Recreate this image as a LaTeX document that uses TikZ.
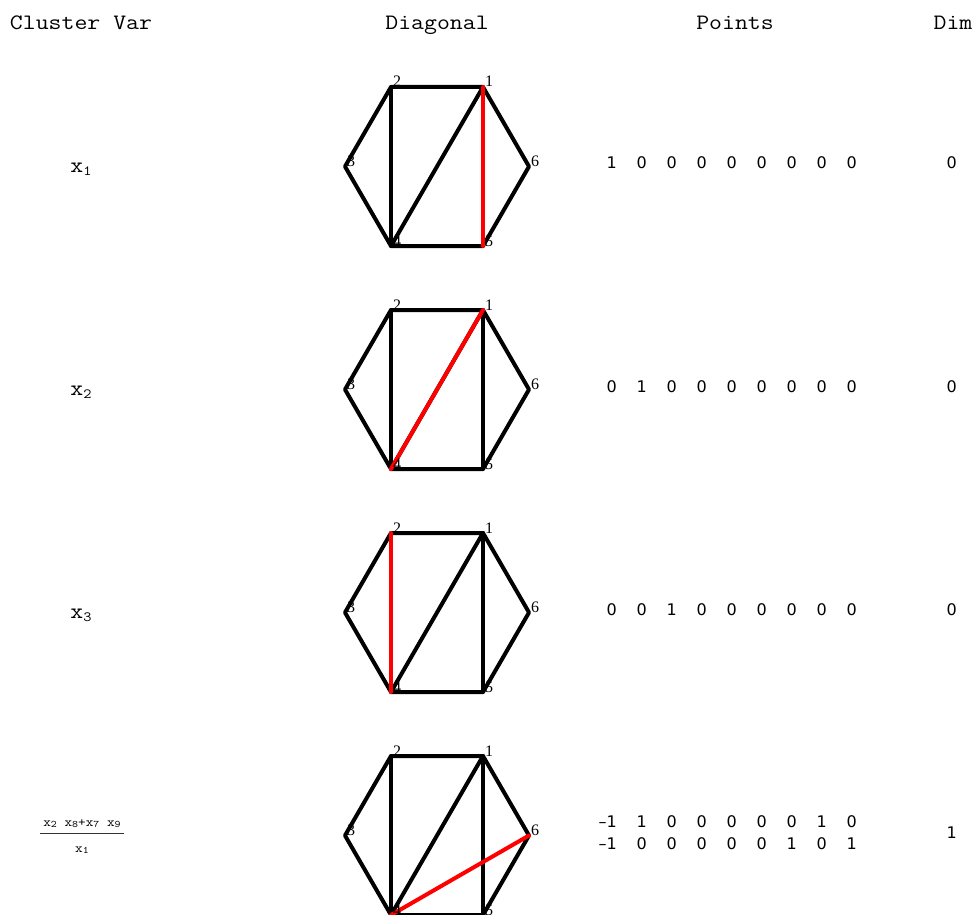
\documentclass[tikz,border=0pt]{standalone}
\usepackage{fontspec}
\setmainfont{Liberation Serif}
\newfontfamily\monof[FakeStretch=1.14]{Latin Modern Mono}
\newfontfamily\numf{DejaVu Sans}
\newcommand{\mysub}[1]{\raisebox{-3pt}{\fontsize{14}{14}\selectfont #1}}
\newcommand{\mysmallsub}[1]{\raisebox{-1.5pt}{\fontsize{10}{10}\selectfont #1}}
\begin{document}
\begin{tikzpicture}[x=1pt,y=-1pt,
  edge/.style={line width=4pt,line cap=round,line join=round},
  rededge/.style={edge,red},
  vlabel/.style={anchor=base west,inner sep=0pt,xshift=2pt,font=\fontsize{16}{16}\selectfont},
  head/.style={anchor=base,inner sep=0pt,font=\monof\fontsize{22}{22}\selectfont},
  digit/.style={anchor=base east,inner sep=0pt,font=\numf\fontsize{16}{16}\selectfont},
  cvar/.style={anchor=base,inner sep=0pt,font=\monof\fontsize{22}{22}\selectfont},
  small/.style={inner sep=0pt,anchor=base,font=\monof\fontsize{13}{13}\selectfont}]
\useasboundingbox (0,0) rectangle (975,915);
% headers
\node[head] (h1) at (81,30) {Cluster Var};
\node[head] (h2) at (437,30) {Diagonal};
\node[head] (h3) at (735,30) {Points};
\node[head] (h4) at (953,30) {Dim};
% hexagons
\foreach \r in {0,1,2,3}{
  \pgfmathsetmacro{\oy}{223*\r}
  \coordinate (v\r-1) at (483,87+\oy);
  \coordinate (v\r-2) at (391,87+\oy);
  \coordinate (v\r-3) at (345,166.5+\oy);
  \coordinate (v\r-4) at (391,246+\oy);
  \coordinate (v\r-5) at (483,246+\oy);
  \coordinate (v\r-6) at (529,166.5+\oy);
  \draw[edge] (v\r-1) -- (v\r-2) -- (v\r-3) -- (v\r-4) -- (v\r-5) -- (v\r-6) -- cycle;
  \draw[edge] (v\r-2) -- (v\r-4);
  \draw[edge] (v\r-1) -- (v\r-4);
  \draw[edge] (v\r-1) -- (v\r-5);
}
\draw[rededge] (v0-1) -- (v0-5);
\draw[rededge] (v1-1) -- (v1-4);
\draw[rededge] (v2-2) -- (v2-4);
\draw[rededge] (v3-4) -- (v3-6);
\foreach \r in {0,1,2,3}{
  \foreach \k in {1,...,6}{
    \node[vlabel] (l\r-\k) at (v\r-\k) {\k};
  }
}
% cluster variables
\node[cvar] (c1) at (81,172) {x\mysub{1}};
\node[cvar] (c2) at (81,395) {x\mysub{2}};
\node[cvar] (c3) at (81,618) {x\mysub{3}};
\node[small] (c4n) at (82,826) {x\mysmallsub{2} x\mysmallsub{8}+x\mysmallsub{7} x\mysmallsub{9}};
\node[small] (c4d) at (82,852) {x\mysmallsub{1}};
\coordinate (fl) at (40,833.5);
\coordinate (fr) at (124,833.5);
\draw[line width=0.8pt,black!80] (fl) -- (fr);
% points
\foreach \d [count=\k from 0] in {1,0,0,0,0,0,0,0,0}{
  \node[digit] (p1-\k) at (617+30*\k,169) {\d};}
\foreach \d [count=\k from 0] in {0,1,0,0,0,0,0,0,0}{
  \node[digit] (p2-\k) at (617+30*\k,392) {\d};}
\foreach \d [count=\k from 0] in {0,0,1,0,0,0,0,0,0}{
  \node[digit] (p3-\k) at (617+30*\k,615) {\d};}
\foreach \d [count=\k from 0] in {–1,1,0,0,0,0,0,1,0}{
  \node[digit] (p4-\k) at (617+30*\k,827) {\d};}
\foreach \d [count=\k from 0] in {–1,0,0,0,0,0,1,0,1}{
  \node[digit] (p5-\k) at (617+30*\k,849) {\d};}
% dims
\node[digit] (d1) at (957,169) {0};
\node[digit] (d2) at (957,392) {0};
\node[digit] (d3) at (957,615) {0};
\node[digit] (d4) at (957,838) {1};
\end{tikzpicture}
\end{document}
